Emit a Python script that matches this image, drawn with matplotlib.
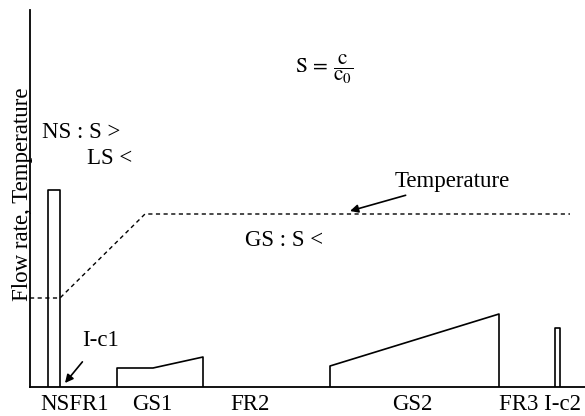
import matplotlib
matplotlib.use("Agg")
import matplotlib.pyplot as plt

plt.rcParams["font.family"] = ["Liberation Serif", "DejaVu Serif"]
plt.rcParams["mathtext.fontset"] = "stix"

# flow-rate profile pieces (arbitrary units)
ns_bar_x = [18, 18, 30, 30]
ns_bar_y = [0, 197, 197, 0]
gs1_x = [87, 87, 123, 173, 173]
gs1_y = [0, 19, 19, 30, 0]
gs2_x = [300, 300, 469, 469]
gs2_y = [0, 21, 73, 0]
ic2_bar_x = [525, 525, 530, 530]
ic2_bar_y = [0, 59, 59, 0]

# temperature profile
temp_x = [0, 30, 115, 540]
temp_y = [89, 89, 173, 173]

step_labels = ["NSFR1", "GS1", "FR2", "GS2", "FR3 I-c2"]
step_pos = [45, 122, 220, 382, 510]

FS = 16.5

fig = plt.figure(figsize=(5.85, 4.16), dpi=100)
ax = fig.add_axes([30 / 585, 29 / 416, 555 / 585, 377 / 416])
ax.set_xlim(0, 555)
ax.set_ylim(0, 377)

for xs, ys in [(ns_bar_x, ns_bar_y), (gs1_x, gs1_y), (gs2_x, gs2_y), (ic2_bar_x, ic2_bar_y)]:
    ax.plot(xs, ys, color="black", lw=1.2)

ax.plot(temp_x, temp_y, color="black", lw=1.0, ls=(0, (3, 2.5)))

ax.spines["top"].set_visible(False)
ax.spines["right"].set_visible(False)
ax.spines["left"].set_linewidth(1.3)
ax.spines["bottom"].set_linewidth(1.3)
ax.set_xticks([])
ax.set_yticks([])

for lab, xp in zip(step_labels, step_pos):
    ax.text(xp, -18, lab, ha="center", va="center", fontsize=FS, clip_on=False)

ax.set_ylabel("Flow rate, Temperature", fontsize=FS)
ax.yaxis.set_label_coords(0.005, 0.51)

ax.text(12, 255, "NS : S >", fontsize=FS, va="center")
ax.text(57, 229, "LS <", fontsize=FS, va="center")
ax.text(215, 147, "GS : S <", fontsize=FS, va="center")
ax.text(265, 318, r"$\mathrm{S}\,=\,\dfrac{\mathrm{c}}{\mathrm{c_0}}$", fontsize=FS - 1, va="center")

ax.annotate("Temperature", xy=(320, 176), xytext=(365, 205), fontsize=FS,
            va="center", ha="left",
            arrowprops=dict(arrowstyle="-|>", color="black", lw=1.2,
                            shrinkA=0, shrinkB=0, mutation_scale=12))
ax.annotate("I-c1", xy=(35, 4), xytext=(52, 47), fontsize=FS,
            va="center", ha="left",
            arrowprops=dict(arrowstyle="-|>", color="black", lw=1.2,
                            shrinkA=8, shrinkB=0, mutation_scale=12))

fig.savefig("out.png", dpi=100)
